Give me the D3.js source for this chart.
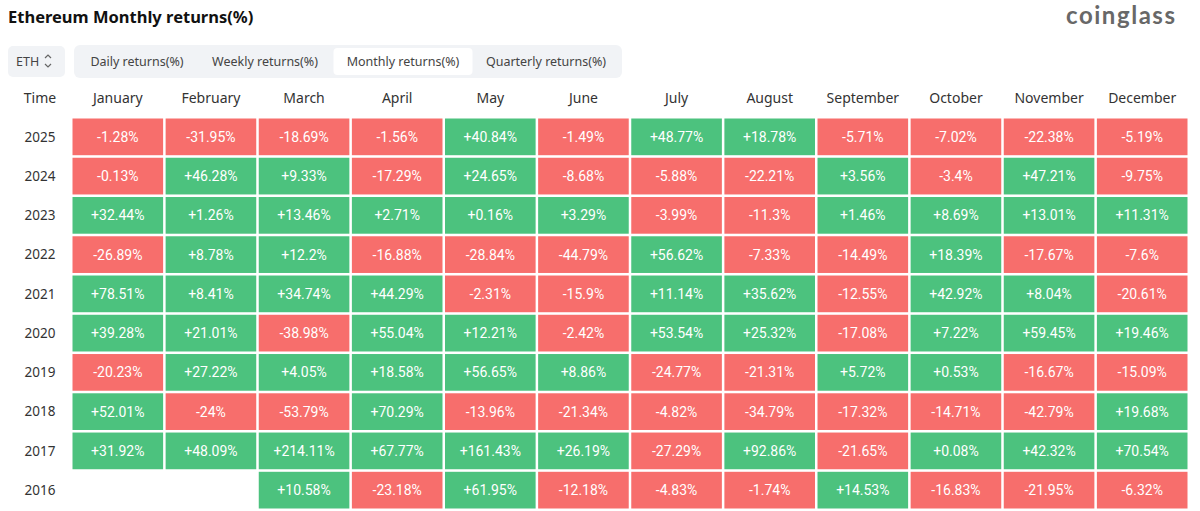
<!DOCTYPE html>
<html>
<head>
<meta charset="utf-8" />
<title>Ethereum Monthly returns(%)</title>
<script src="https://cdn.jsdelivr.net/npm/d3@7/dist/d3.min.js"></script>
<style>
    body { margin: 0; background: #fff; }
    text { font-family: "Noto Sans", "Open Sans", sans-serif; }
    .cell-text { font-family: Roboto, "Noto Sans", sans-serif; }
</style>
</head>
<body>
<div id="chart"></div>
<script>
    var months = ["January", "February", "March", "April", "May", "June", "July", "August", "September", "October", "November", "December"];
    var years = ["2025", "2024", "2023", "2022", "2021", "2020", "2019", "2018", "2017", "2016"];
    var tabs = ["Daily returns(%)", "Weekly returns(%)", "Monthly returns(%)", "Quarterly returns(%)"];

    // monthly returns in %, null = no data
    var r2025 = [-1.28, -31.95, -18.69, -1.56, 40.84, -1.49, 48.77, 18.78, -5.71, -7.02, -22.38, -5.19];
    var r2024 = [-0.13, 46.28, 9.33, -17.29, 24.65, -8.68, -5.88, -22.21, 3.56, -3.4, 47.21, -9.75];
    var r2023 = [32.44, 1.26, 13.46, 2.71, 0.16, 3.29, -3.99, -11.3, 1.46, 8.69, 13.01, 11.31];
    var r2022 = [-26.89, 8.78, 12.2, -16.88, -28.84, -44.79, 56.62, -7.33, -14.49, 18.39, -17.67, -7.6];
    var r2021 = [78.51, 8.41, 34.74, 44.29, -2.31, -15.9, 11.14, 35.62, -12.55, 42.92, 8.04, -20.61];
    var r2020 = [39.28, 21.01, -38.98, 55.04, 12.21, -2.42, 53.54, 25.32, -17.08, 7.22, 59.45, 19.46];
    var r2019 = [-20.23, 27.22, 4.05, 18.58, 56.65, 8.86, -24.77, -21.31, 5.72, 0.53, -16.67, -15.09];
    var r2018 = [52.01, -24, -53.79, 70.29, -13.96, -21.34, -4.82, -34.79, -17.32, -14.71, -42.79, 19.68];
    var r2017 = [31.92, 48.09, 214.11, 67.77, 161.43, 26.19, -27.29, 92.86, -21.65, 0.08, 42.32, 70.54];
    var r2016 = [null, null, 10.58, -23.18, 61.95, -12.18, -4.83, -1.74, 14.53, -16.83, -21.95, -6.32];

    var rows = [r2025, r2024, r2023, r2022, r2021, r2020, r2019, r2018, r2017, r2016];

    var cells = [];
    rows.forEach(function (row, i) {
        row.forEach(function (v, j) {
            if (v !== null) cells.push({ year: years[i], month: months[j], value: v });
        });
    });

    var width = 1200, height = 511;
    var svg = d3.select("#chart").append("svg")
        .attr("width", width)
        .attr("height", height);

    var x = d3.scaleBand().domain(months).range([72.5, 1187.5]).paddingInner(0.027);
    var y = d3.scaleBand().domain(years).range([118.5, 508.5]).paddingInner(0.065);

    // title
    svg.append("text")
        .attr("x", 8).attr("y", 23)
        .attr("font-size", "16.5px").attr("font-weight", "bold").attr("fill", "#111")
        .text("Ethereum Monthly returns(%)");

    // logo
    svg.append("text")
        .attr("x", 1066).attr("y", 24)
        .attr("font-size", "24px").attr("font-weight", "bold").attr("fill", "#686868")
        .attr("textLength", 109).attr("lengthAdjust", "spacing")
        .style("font-family", "Lato, 'Noto Sans', sans-serif")
        .text("coinglass");

    // coin selector
    svg.append("rect").attr("x", 8).attr("y", 46).attr("width", 57).attr("height", 31)
        .attr("rx", 5).attr("fill", "#f1f3f6");
    svg.append("text").attr("x", 16).attr("y", 66)
        .attr("font-size", "12.5px").attr("fill", "#444").text("ETH");
    svg.append("path")
        .attr("d", "M45,58 l3,-3 l3,3 M45,64 l3,3 l3,-3")
        .attr("fill", "none").attr("stroke", "#666").attr("stroke-width", 1.2);

    // tabs
    var tabX = d3.scaleOrdinal().domain(tabs).range([137, 265, 403, 546]);
    var tabW = d3.scaleOrdinal().domain(tabs).range([124, 128, 139, 146]);
    svg.append("rect").attr("x", 74).attr("y", 45).attr("width", 548).attr("height", 33)
        .attr("rx", 6).attr("fill", "#f1f3f6");
    svg.append("rect")
        .attr("x", tabX(tabs[2]) - tabW(tabs[2]) / 2).attr("y", 48)
        .attr("width", tabW(tabs[2])).attr("height", 27)
        .attr("rx", 4).attr("fill", "#fff");
    svg.selectAll(".tab").data(tabs).enter().append("text")
        .attr("class", "tab")
        .attr("x", function (d) { return tabX(d); })
        .attr("y", 66)
        .attr("text-anchor", "middle")
        .attr("font-size", "12.5px").attr("fill", "#444")
        .text(function (d) { return d; });

    // header row
    svg.append("text").attr("x", 40).attr("y", 103).attr("text-anchor", "middle")
        .attr("font-size", "14px").attr("fill", "#333").text("Time");
    svg.selectAll(".month").data(months).enter().append("text")
        .attr("class", "month")
        .attr("x", function (d) { return x(d) + x.bandwidth() / 2; })
        .attr("y", 103)
        .attr("text-anchor", "middle")
        .attr("font-size", "14px").attr("fill", "#333")
        .text(function (d) { return d; });

    // year labels
    svg.selectAll(".year").data(years).enter().append("text")
        .attr("class", "year")
        .attr("x", 40)
        .attr("y", function (d) { return y(d) + y.bandwidth() / 2; })
        .attr("dy", "0.36em")
        .attr("text-anchor", "middle")
        .attr("font-size", "13.5px").attr("fill", "#333")
        .text(function (d) { return d; });

    // cells
    svg.selectAll(".cell").data(cells).enter().append("rect")
        .attr("class", "cell")
        .attr("x", function (d) { return x(d.month); })
        .attr("y", function (d) { return y(d.year); })
        .attr("width", x.bandwidth())
        .attr("height", y.bandwidth())
        .attr("fill", function (d) { return d.value >= 0 ? "#4cc27e" : "#f76e6c"; });

    svg.selectAll(".cell-text").data(cells).enter().append("text")
        .attr("class", "cell-text")
        .attr("x", function (d) { return x(d.month) + x.bandwidth() / 2; })
        .attr("y", function (d) { return y(d.year) + y.bandwidth() / 2; })
        .attr("dy", "0.36em")
        .attr("text-anchor", "middle")
        .attr("font-size", "14px").attr("fill", "#fff")
        .text(function (d) { return (d.value >= 0 ? "+" : "") + d.value + "%"; });
</script>
</body>
</html>
